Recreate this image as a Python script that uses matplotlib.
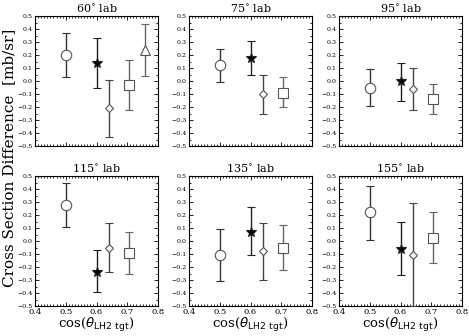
import matplotlib
matplotlib.use("Agg")
import matplotlib.pyplot as plt
from matplotlib.ticker import MultipleLocator

plt.rcParams['font.family'] = ['DejaVu Serif']

angles = ["60", "75", "95", "115", "135", "155"]
markers = ["o", "*", "D", "s", "^"]
x_pos = [0.50, 0.60, 0.64, 0.705, 0.757]

values = {
    "60":  [0.20, 0.14, -0.21, -0.03, 0.24],
    "75":  [0.12, 0.18, -0.10, -0.09, None],
    "95":  [-0.05, 0.00, -0.06, -0.14, None],
    "115": [0.28, -0.24, -0.05, -0.09, None],
    "135": [-0.11, 0.07, -0.08, -0.05, None],
    "155": [0.22, -0.06, -0.11, 0.02, None],
}
lows = {
    "60":  [0.03, -0.05, -0.43, -0.22, 0.04],
    "75":  [-0.01, 0.05, -0.25, -0.20, None],
    "95":  [-0.19, -0.15, -0.22, -0.25, None],
    "115": [0.11, -0.39, -0.24, -0.25, None],
    "135": [-0.31, -0.11, -0.30, -0.22, None],
    "155": [0.01, -0.26, -0.50, -0.17, None],
}
highs = {
    "60":  [0.37, 0.33, 0.01, 0.16, 0.44],
    "75":  [0.25, 0.31, 0.05, 0.03, None],
    "95":  [0.09, 0.14, 0.10, -0.02, None],
    "115": [0.45, -0.07, 0.14, 0.07, None],
    "135": [0.09, 0.26, 0.14, 0.12, None],
    "155": [0.42, 0.15, 0.29, 0.22, None],
}

msizes = [7.5, 7, 4.2, 6.5, 7]
mfc = ["white", "black", "white", "white", "white"]
ecol = ["#333333", "#222222", "#444444", "#666666", "#666666"]

fig = plt.figure(figsize=(4.69, 3.36), dpi=100)
lefts = [35/469, 189/469, 339/469]
w = 123/469
bottoms = [1-146/336, 1-306/336]
h = 130/336

for i, ang in enumerate(angles):
    r, c = divmod(i, 3)
    ax = fig.add_axes([lefts[c], bottoms[r], w, h])
    for k in range(5):
        y = values[ang][k]
        if y is None:
            continue
        lo, hi = lows[ang][k], highs[ang][k]
        ax.errorbar([x_pos[k]], [y], yerr=[[y-lo], [hi-y]], fmt=markers[k],
                    ms=msizes[k], mfc=mfc[k], mec="#222222" if k == 1 else "#555555",
                    mew=0.8, ecolor=ecol[k], elinewidth=1.0, capsize=3, capthick=1.0,
                    zorder=3)
    ax.set_xlim(0.4, 0.8)
    ax.set_ylim(-0.5, 0.5)
    ax.xaxis.set_major_locator(MultipleLocator(0.1))
    ax.xaxis.set_minor_locator(MultipleLocator(0.01))
    ax.yaxis.set_major_locator(MultipleLocator(0.1))
    ax.yaxis.set_minor_locator(MultipleLocator(0.05))
    ax.tick_params(which='both', direction='in', top=True, right=True, labelsize=4.5,
                   width=0.6, pad=1.5)
    ax.tick_params(which='major', length=3)
    ax.tick_params(which='minor', length=1.5)
    ax.set_yticklabels([f"{v:.1f}".replace("-", "\u2212") for v in ax.get_yticks()])
    if r == 0:
        ax.set_xticklabels([])
    else:
        ax.set_xticklabels([f"{v:.1f}" for v in ax.get_xticks()], fontsize=6)
        ax.set_xlabel(r"cos($\theta_{\rm LH2\ tgt}$)", fontsize=9.5, labelpad=0)
    for s in ax.spines.values():
        s.set_linewidth(0.8)
    ax.set_title(f"{ang}$^{{\\circ}}$ lab", fontsize=8, pad=2)

fig.text(0.019, 0.53, "Cross Section Difference  [mb/sr]", rotation=90,
         ha='center', va='center', fontsize=11)

fig.savefig("out.png", dpi=100)
